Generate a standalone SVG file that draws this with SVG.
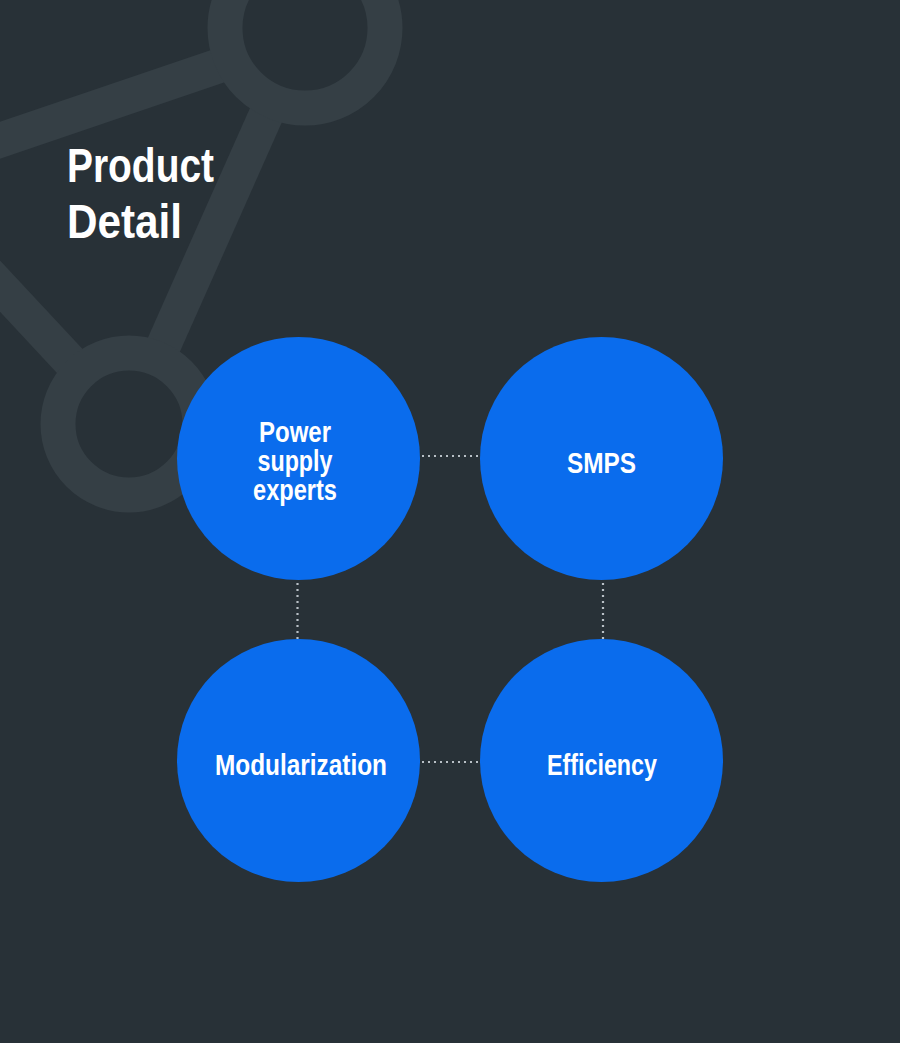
<svg xmlns="http://www.w3.org/2000/svg" width="900" height="1043" viewBox="0 0 900 1043">
<style>
.bg{fill:#283137}
.deco{fill:none;stroke:#353f45;stroke-width:35}
.node{fill:#0a6ced}
.title{font-family:"Liberation Sans",Arial,sans-serif;font-weight:bold;font-size:49px;fill:#ffffff}
.lbl{font-family:"Liberation Sans",Arial,sans-serif;font-weight:bold;font-size:30px;fill:#ffffff}
.dot{fill:none;stroke:#b9c0c6;stroke-width:2.2;stroke-dasharray:2 4}
</style>
<rect class="bg" x="0" y="0" width="900" height="1043"/>
<g id="decoration">
<line class="deco" x1="-20" y1="147" x2="230" y2="62"/>
<line class="deco" x1="270" y1="106" x2="158" y2="358"/>
<line class="deco" x1="-15" y1="270" x2="80" y2="372"/>
<circle class="deco" cx="305" cy="28" r="80"/>
<circle class="deco" cx="129" cy="424" r="71"/>
</g>
<g id="title">
<text class="title" x="67" y="182" textLength="147" lengthAdjust="spacingAndGlyphs">Product</text>
<text class="title" x="67" y="238" textLength="115" lengthAdjust="spacingAndGlyphs">Detail</text>
</g>
<g id="connectors">
<line class="dot" x1="422" y1="456" x2="480" y2="456"/>
<line class="dot" x1="422" y1="762" x2="480" y2="762"/>
<line class="dot" x1="297.5" y1="583" x2="297.5" y2="639"/>
<line class="dot" x1="603" y1="583" x2="603" y2="639"/>
</g>
<g id="node-power">
<circle class="node" cx="298.5" cy="458.5" r="121.5"/>
<text class="lbl" x="259" y="442" textLength="72" lengthAdjust="spacingAndGlyphs">Power</text>
<text class="lbl" x="257.5" y="471" textLength="75" lengthAdjust="spacingAndGlyphs">supply</text>
<text class="lbl" x="253" y="500" textLength="84" lengthAdjust="spacingAndGlyphs">experts</text>
</g>
<g id="node-smps">
<circle class="node" cx="601.5" cy="458.5" r="121.5"/>
<text class="lbl" x="567" y="473" textLength="69" lengthAdjust="spacingAndGlyphs">SMPS</text>
</g>
<g id="node-modularization">
<circle class="node" cx="298.5" cy="760.5" r="121.5"/>
<text class="lbl" x="215" y="775" textLength="172" lengthAdjust="spacingAndGlyphs">Modularization</text>
</g>
<g id="node-efficiency">
<circle class="node" cx="601.5" cy="760.5" r="121.5"/>
<text class="lbl" x="547" y="775" textLength="110" lengthAdjust="spacingAndGlyphs">Efficiency</text>
</g>
</svg>
